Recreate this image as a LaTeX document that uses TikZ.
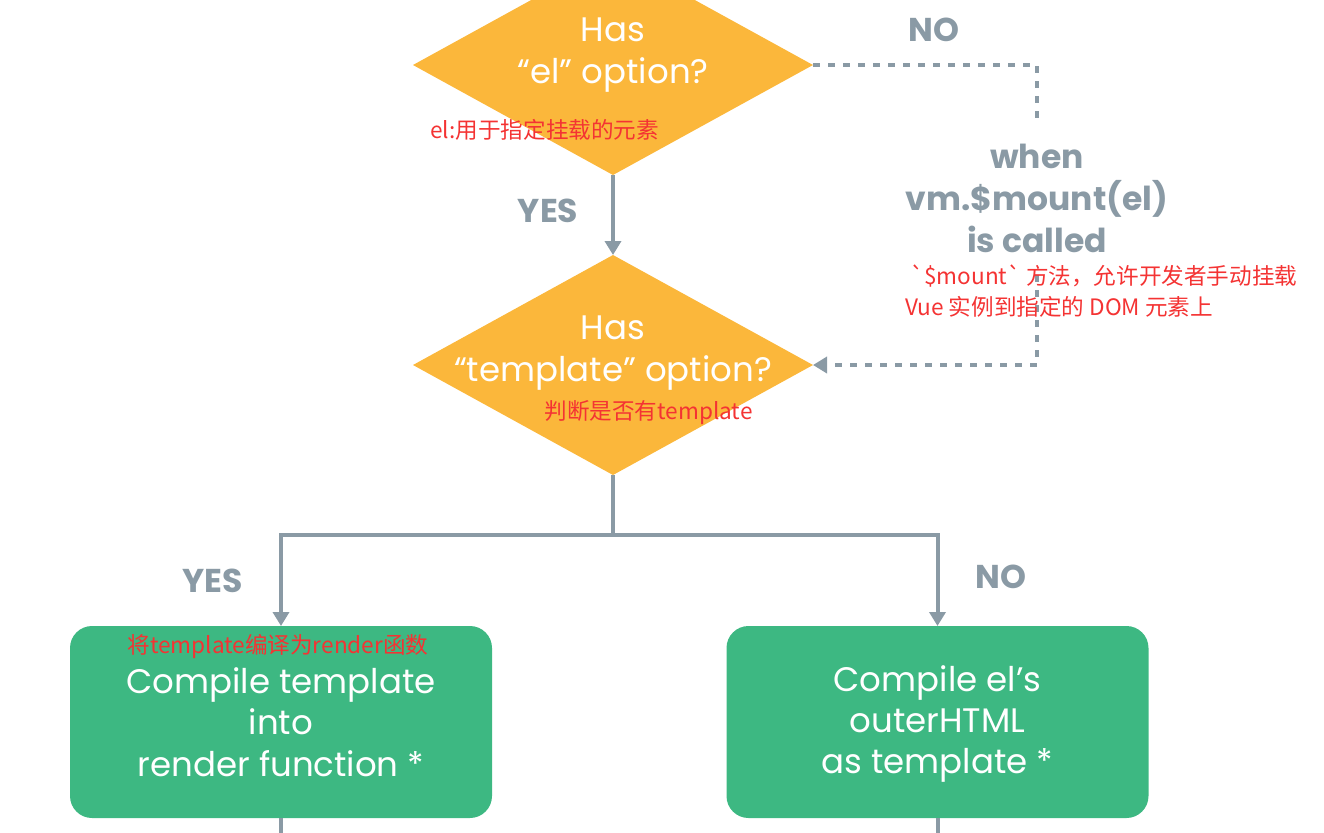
\documentclass[tikz,border=0pt]{standalone}
\usepackage{fontspec}
\setmainfont{Poppins}
\newfontfamily\cjk{Noto Sans CJK SC}
\usetikzlibrary{shapes.geometric,arrows.meta}
\definecolor{vueyellow}{RGB}{251,183,59}
\definecolor{vuegreen}{RGB}{61,184,130}
\definecolor{vuegray}{RGB}{138,154,165}
\definecolor{notered}{RGB}{244,51,51}

\begin{document}
\begin{tikzpicture}[x=0.5pt, y=-0.5pt, >={Triangle[width=8pt,length=7pt]},
	every node/.style={font=\fontsize{17}{20.7}\selectfont},
	decision/.style={diamond, fill=vueyellow, minimum width=200pt, minimum height=110pt, inner sep=0pt, outer sep=0pt},
	stepbox/.style={rounded corners=11pt, fill=vuegreen, minimum width=211pt, minimum height=96pt, inner sep=0pt, outer sep=0pt},
	inside/.style={text=white, align=center},
	answer/.style={text=vuegray, align=center, font=\bfseries\fontsize{16.5}{21}\selectfont},
	note/.style={text=notered, align=left, anchor=west, inner sep=0pt, font=\cjk\fontsize{11.3}{15.5}\selectfont},
	flow/.style={draw=vuegray, line width=2pt},
	dots/.style={draw=vuegray, line width=2pt, dash pattern=on 3.5pt off 4pt}]
	\useasboundingbox (0,0) rectangle (1324,832);
	\clip (0,0) rectangle (1324,832);
	% decisions
	\node[decision] (hasel) at (613,65) {};
	\node[inside] (haseltxt) at ([yshift=5pt]hasel.center) {Has\\“el” option?};
	\node[decision] (hastpl) at (613,365) {};
	\node[inside] (hastpltxt) at ([yshift=6pt]hastpl.center) {Has\\“template” option?};
	% compile steps
	\node[stepbox] (cmptpl) at (281,722) {};
	\node[inside] (cmptpltxt) at (cmptpl) {Compile template\\into\\render function *};
	\node[stepbox] (cmpel) at (937.5,722) {};
	\node[inside] (cmpeltxt) at ([yshift=-1pt]cmpel.center) {Compile el’s\\outerHTML\\as template *};
	% mount call, sits on the dotted line
	\node[answer, minimum height=77pt, inner sep=0pt] (mount) at (1037,198) {when\\vm.\$mount(el)\\is called};
	\coordinate (split) at (613,535);
	% connectors
	\draw[flow, ->] (hasel.south) -- (hastpl.north);
	\draw[dots] (hasel.east) -| (mount.north);
	\draw[dots, ->] (mount.south) |- (hastpl.east);
	\draw[flow] (hastpl.south) -- (split);
	\draw[flow, ->] (split) -| (cmptpl.north);
	\draw[flow, ->] (split) -| (cmpel.north);
	\draw[flow] (cmptpl.south) -- +(0,40);
	\draw[flow] (cmpel.south) -- +(0,40);
	% answers
	\node[answer] (no1) at (934,30) {NO};
	\node[answer] (yes1) at (548,211) {YES};
	\node[answer] (yes2) at (213,581) {YES};
	\node[answer] (no2) at (1001,577) {NO};
	% notes
	\node[note] (elnote) at (430,130) {el:用于指定挂载的元素};
	\node[note] (mountnote) at (905,291) {\ `\$mount` 方法，允许开发者手动挂载\\Vue 实例到指定的 DOM 元素上};
	\node[note] (tplnote) at (544,413) {判断是否有template};
	\node[note] (rendernote) at (127,647) {将template编译为render函数};
\end{tikzpicture}
\end{document}
